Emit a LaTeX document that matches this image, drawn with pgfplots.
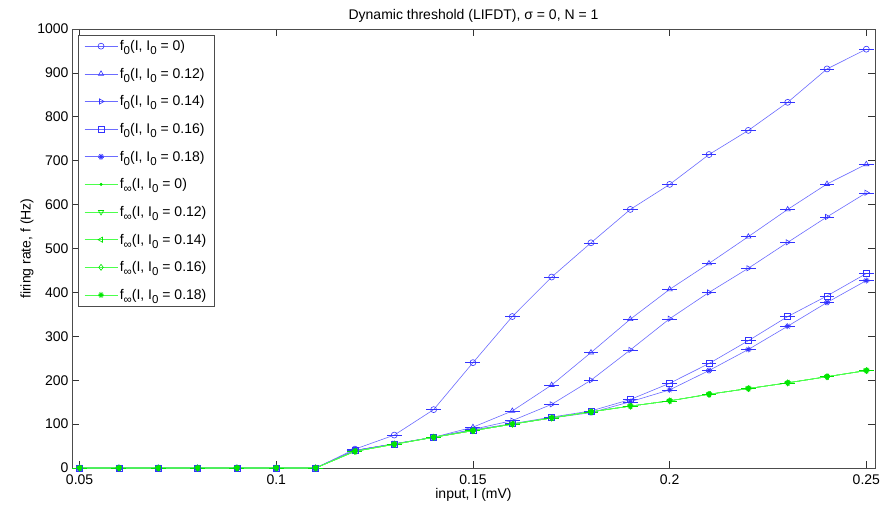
\documentclass[border=0pt]{standalone}
\usepackage{fontspec}
\setmainfont{Liberation Sans}
\usepackage{pgfplots}
\pgfplotsset{compat=1.18}
\usetikzlibrary{plotmarks}
\definecolor{bl}{rgb}{0.42,0.42,1}
\definecolor{bm}{rgb}{0.2,0.2,1}
\definecolor{gl}{rgb}{0.3,1,0.3}
\definecolor{gm}{rgb}{0,0.9,0}
\newcommand{\sub}[1]{\raisebox{-4pt}{\fontsize{11.5}{12}\selectfont #1}}
\begin{document}
\begin{tikzpicture}
\begin{axis}[
  scale only axis, width=803pt, height=439pt,
  xmin=0.04807, xmax=0.2522, ymin=0, ymax=1000,
  xtick={0.05,0.1,0.15,0.2,0.25},
  xticklabels={0.05,0.1,0.15,0.2,0.25},
  ytick={0,100,...,1000},
  tick align=inside, major tick length=7pt,
  xtick pos=both, ytick pos=both,
  axis line style={black!70}, tick style={black!80, line width=0.6pt},
  /pgf/number format/assume math mode=true,
  /pgf/number format/1000 sep={},
  tick label style={font=\fontsize{14}{16}\selectfont},
  xticklabel style={yshift=-3pt},
  label style={font=\fontsize{14}{16}\selectfont},
  title style={font=\fontsize{14}{16}\selectfont, yshift=-3pt},
  title={Dynamic threshold (LIFDT), σ = 0, N = 1},
  xlabel={input, I (mV)}, ylabel={firing rate, f (Hz)},
  xlabel style={yshift=3pt}, ylabel style={yshift=-3pt},
  legend style={at={(0.0075,0.986)}, anchor=north west, draw=black!70,
    font=\fontsize{14}{16}\selectfont, row sep=12pt, inner xsep=6pt, inner ysep=3pt},
  legend cell align=left,
  legend image code/.code={\draw[mark repeat=2,mark phase=2] plot coordinates {(0cm,0cm)(0.58cm,0cm)(1.16cm,0cm)};},
  every axis plot/.append style={line width=0.6pt, mark size=3pt},
  error bars/x dir=both, error bars/x fixed=0.0019, error bars/error mark=none,
]
\addplot[bl, mark=o, mark options={bm, line width=0.6pt}, error bars/error bar style={bm}] coordinates {
(0.05,0)(0.06,0)(0.07,0)(0.08,0)(0.09,0)(0.10,0)(0.11,0)(0.12,43)(0.13,75)(0.14,133)(0.15,240)(0.16,345)(0.17,435)(0.18,513)(0.19,589)(0.20,646)(0.21,714)(0.22,769)(0.23,833)(0.24,909)(0.25,954)};
\addlegendentry{f\sub{0}(I, I\sub{0} = 0)}
\addplot[bl, mark=triangle, mark options={bm}, error bars/error bar style={bm}] coordinates {
(0.05,0)(0.06,0)(0.07,0)(0.08,0)(0.09,0)(0.10,0)(0.11,0)(0.12,40)(0.13,55)(0.14,70)(0.15,93)(0.16,130)(0.17,189)(0.18,263)(0.19,339)(0.20,407)(0.21,466)(0.22,527)(0.23,589)(0.24,647)(0.25,692)};
\addlegendentry{f\sub{0}(I, I\sub{0} = 0.12)}
\addplot[bl, mark=triangle, mark options={bm, rotate=-90}, error bars/error bar style={bm}] coordinates {
(0.05,0)(0.06,0)(0.07,0)(0.08,0)(0.09,0)(0.10,0)(0.11,0)(0.12,40)(0.13,55)(0.14,70)(0.15,88)(0.16,108)(0.17,145)(0.18,200)(0.19,269)(0.20,340)(0.21,400)(0.22,455)(0.23,514)(0.24,572)(0.25,627)};
\addlegendentry{f\sub{0}(I, I\sub{0} = 0.14)}
\addplot[bl, mark=square, mark options={bm}, error bars/error bar style={bm}] coordinates {
(0.05,0)(0.06,0)(0.07,0)(0.08,0)(0.09,0)(0.10,0)(0.11,0)(0.12,40)(0.13,55)(0.14,70)(0.15,87)(0.16,101)(0.17,116)(0.18,130)(0.19,156)(0.20,193)(0.21,238)(0.22,290)(0.23,345)(0.24,392)(0.25,443)};
\addlegendentry{f\sub{0}(I, I\sub{0} = 0.16)}
\addplot[bl, mark=10-pointed star, mark options={bm, mark size=3pt, fill opacity=0}, error bars/error bar style={bm}] coordinates {
(0.05,0)(0.06,0)(0.07,0)(0.08,0)(0.09,0)(0.10,0)(0.11,0)(0.12,40)(0.13,55)(0.14,70)(0.15,86)(0.16,100)(0.17,114)(0.18,126)(0.19,151)(0.20,178)(0.21,222)(0.22,270)(0.23,323)(0.24,377)(0.25,427)};
\addlegendentry{f\sub{0}(I, I\sub{0} = 0.18)}
\addplot[gl, mark=*, mark options={gm, mark size=1.2pt}, error bars/error bar style={gm}] coordinates {
(0.05,0)(0.06,0)(0.07,0)(0.08,0)(0.09,0)(0.10,0)(0.11,0)(0.12,38)(0.13,54)(0.14,70)(0.15,85)(0.16,100)(0.17,114)(0.18,128)(0.19,141)(0.20,153)(0.21,168)(0.22,181)(0.23,194)(0.24,208)(0.25,222)};
\addlegendentry{f\sub{∞}(I, I\sub{0} = 0)}
\addplot[gl, mark=triangle, mark options={gm, rotate=180}, error bars/error bar style={gm}] coordinates {
(0.05,0)(0.06,0)(0.07,0)(0.08,0)(0.09,0)(0.10,0)(0.11,0)(0.12,38)(0.13,54)(0.14,70)(0.15,85)(0.16,100)(0.17,114)(0.18,128)(0.19,141)(0.20,153)(0.21,168)(0.22,181)(0.23,194)(0.24,208)(0.25,222)};
\addlegendentry{f\sub{∞}(I, I\sub{0} = 0.12)}
\addplot[gl, mark=triangle, mark options={gm, rotate=90}, error bars/error bar style={gm}] coordinates {
(0.05,0)(0.06,0)(0.07,0)(0.08,0)(0.09,0)(0.10,0)(0.11,0)(0.12,38)(0.13,54)(0.14,70)(0.15,85)(0.16,100)(0.17,114)(0.18,128)(0.19,141)(0.20,153)(0.21,168)(0.22,181)(0.23,194)(0.24,208)(0.25,222)};
\addlegendentry{f\sub{∞}(I, I\sub{0} = 0.14)}
\addplot[gl, mark=diamond, mark options={gm}, error bars/error bar style={gm}] coordinates {
(0.05,0)(0.06,0)(0.07,0)(0.08,0)(0.09,0)(0.10,0)(0.11,0)(0.12,38)(0.13,54)(0.14,70)(0.15,85)(0.16,100)(0.17,114)(0.18,128)(0.19,141)(0.20,153)(0.21,168)(0.22,181)(0.23,194)(0.24,208)(0.25,222)};
\addlegendentry{f\sub{∞}(I, I\sub{0} = 0.16)}
\addplot[gl, mark=10-pointed star, mark options={gm, mark size=3pt, fill opacity=0}, error bars/error bar style={gm}] coordinates {
(0.05,0)(0.06,0)(0.07,0)(0.08,0)(0.09,0)(0.10,0)(0.11,0)(0.12,38)(0.13,54)(0.14,70)(0.15,85)(0.16,100)(0.17,114)(0.18,128)(0.19,141)(0.20,153)(0.21,168)(0.22,181)(0.23,194)(0.24,208)(0.25,222)};
\addlegendentry{f\sub{∞}(I, I\sub{0} = 0.18)}
\end{axis}
\pgfresetboundingbox
\path[use as bounding box] ([shift={(-72pt,-44pt)}]current axis.south west) rectangle ([shift={(11pt,29pt)}]current axis.north east);
\end{tikzpicture}
\end{document}
